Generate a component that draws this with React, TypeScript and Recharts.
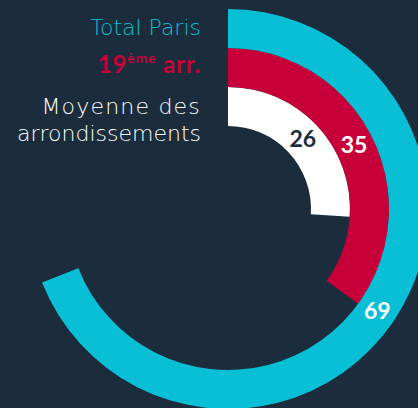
import { RadialBarChart, RadialBar, PolarAngleAxis, LabelList } from 'recharts';

// inner → outer
const names = ['Moyenne des arrondissements', '19ème arr.', 'Total Paris'];
const values = [26, 35, 69];
const colors = ['#ffffff', '#c8003a', '#08bfd5'];
const labelColors = ['#1b2d3c', '#ffffff', '#ffffff'];

const BG = '#1b2d3c';

const data = names.map((name, i) => ({ name, value: values[i], fill: colors[i] }));

const renderLabel = (props: any) => {
  const { viewBox, value, index } = props;
  if (!viewBox) return null;
  const { cx, cy, innerRadius, outerRadius, startAngle, endAngle } = viewBox;
  const mid = ((startAngle + endAngle) / 2) * (Math.PI / 180);
  const r = (innerRadius + outerRadius) / 2;
  const x = cx + r * Math.cos(-mid);
  const y = cy + r * Math.sin(-mid);
  return (
    <text
      x={x}
      y={y}
      dy="0.36em"
      textAnchor="middle"
      fill={labelColors[index]}
      fontSize={23}
      fontWeight={700}
      fontFamily="Lato"
    >
      {value}
    </text>
  );
};

export default function App() {
  return (
    <div
      style={{
        position: 'absolute',
        left: 0,
        top: 0,
        width: 418,
        height: 408,
        background: BG,
        overflow: 'hidden',
      }}
    >
      <RadialBarChart
        width={418}
        height={408}
        cx={228}
        cy={209}
        innerRadius={83}
        outerRadius={200}
        startAngle={90}
        endAngle={-270}
        barCategoryGap={0}
        data={data}
        margin={{ top: 0, right: 0, bottom: 0, left: 0 }}
      >
        <PolarAngleAxis type="number" domain={[0, 100]} tick={false} axisLine={false} />
        <RadialBar dataKey="value" isAnimationActive={false}>
          <LabelList dataKey="value" position="inside" content={renderLabel} />
        </RadialBar>
      </RadialBarChart>
      <svg
        width={418}
        height={408}
        style={{ position: 'absolute', left: 0, top: 0, pointerEvents: 'none' }}
        fontFamily="DejaVu Sans"
        textAnchor="end"
      >
        <text x={201} y={35} fill="#0bbfd4" fontSize={22} fontWeight={200}>
          {names[2]}
        </text>
        <text x={201} y={73} fill="#c8003a" fontSize={24} fontWeight={700} fontFamily="Lato" letterSpacing={0.8}>
          <tspan>19</tspan>
          <tspan fontSize={14} dy={-10}>ème</tspan>
          <tspan dy={10}> arr.</tspan>
        </text>
        <text x={201} y={114} fill="#ffffff" fontSize={22} fontWeight={200} letterSpacing={1.2}>
          Moyenne des
        </text>
        <text x={201} y={141} fill="#ffffff" fontSize={22} fontWeight={200}>
          arrondissements
        </text>
      </svg>
    </div>
  );
}
